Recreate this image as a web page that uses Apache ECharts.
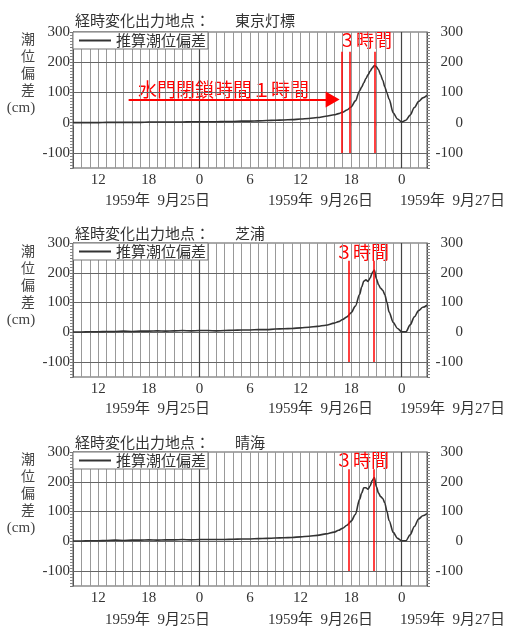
<!DOCTYPE html>
<html><head><meta charset="utf-8">
<script src="https://cdn.jsdelivr.net/npm/echarts@6/dist/echarts.min.js"></script>
<style>html,body{margin:0;padding:0;background:#fff}#c{width:510px;height:630px}</style>
</head><body><div id="c"></div>
<script>
// ---- data (hours counted from 1959-09-25 00:00) ----
const stations = ['東京灯標', '芝浦', '晴海'];
const seriesName = '推算潮位偏差';
const hours = [9,10,11,12,13,14,15,16,17,18,19,20,21,22,23,24,25,26,27,28,29,30,31,32,33,34,35,36,37,38,39,40,
  40.5,41,41.5,42,42.5,43,43.25,43.5,43.75,44,44.25,44.5,44.75,45,45.25,45.5,45.75,46,46.25,46.5,47,47.5,48,48.5,49,49.5,50,50.5,51];
const tokyoToho = [0,0,0,0,1,1,1,1,1,2,2,2,2,2,3,3,3,3,4,4,5,5,6,7,8,9,10,12,14,17,21,26,
  30,35,42,52,72,105,118,132,146,158,170,181,189,185,175,158,140,118,98,78,32,12,2,8,25,50,70,82,90];
const shibaura = [1,1,2,2,3,3,4,3,4,4,5,4,5,6,5,6,6,5,6,7,8,8,9,9,11,12,13,15,17,20,24,31,
  36,43,52,66,88,127,152,172,176,171,182,200,209,180,160,148,141,126,100,68,33,13,2,2,25,52,73,84,91];
const harumi = [1,1,2,2,3,4,3,4,4,5,4,5,5,6,5,6,6,6,6,7,8,8,9,10,11,12,13,15,17,20,25,31,
  37,44,54,68,90,141,162,180,180,175,186,204,214,183,162,150,144,128,100,70,30,10,2,2,22,50,75,86,93];
const stationValues = [tokyoToho, shibaura, harumi];
// red marker lines (hours) and their top value
const redLines = [[40.85, 41.85, 44.8], [41.7, 44.7], [41.7, 44.7]];
const redTop = [235, 240, 242];
// closing-time arrow (hour start, hour end, level)
const arrowStart = 15.6, arrowEnd = 39.8, arrowLevel = 77;
const yGridValues = [-100, 0, 100, 200];
const dayLines = [24, 48];
const dateLabels = ['1959年  9月25日', '1959年  9月26日', '1959年  9月27日'];

// ---- layout ----
const tops = [32, 243, 452];
const heights = [136, 134, 134];
const titleY = [20, 233, 442];
const dateY = [201, 409, 620];
const dateX = [105, 268, 400];
const nameTop = [30, 242, 450];
const hoursTextY = [40, 252, 460];
const serif = "'Liberation Serif','Noto Sans CJK JP',serif";
const jp = "'Noto Sans CJK JP',sans-serif";

const grid = [], xAxis = [], yAxis = [], series = [], legend = [], graphic = [];
tops.forEach((t, i) => {
  grid.push({left: 73, right: 83, top: t, height: heights[i], show: true, borderColor: '#555', borderWidth: 1, backgroundColor: 'transparent'});
  xAxis.push({
    gridIndex: i, type: 'value', min: 9, max: 51, interval: 1,
    axisLine: {show: false},
    axisTick: {show: true, length: 3, lineStyle: {color: '#888'}},
    axisLabel: {formatter: v => (v % 6 === 0 ? String(v % 24) : ''), fontFamily: serif, fontSize: 15, color: '#333', margin: 5},
    splitLine: {show: true, lineStyle: {color: '#999', width: 1}}
  });
  const yBase = {
    gridIndex: i, type: 'value', min: -150, max: 300, interval: 50,
    axisLine: {show: true, lineStyle: {color: '#555'}},
    axisTick: {show: true, length: 3, lineStyle: {color: '#777'}},
    minorTick: {show: true, splitNumber: 5, length: 3, lineStyle: {color: '#888'}},
    splitLine: {show: false}
  };
  yAxis.push(Object.assign({}, yBase, {position: 'left',
    axisLabel: {formatter: v => (v % 100 === 0 ? String(v) : ''), fontFamily: serif, fontSize: 15, color: '#333', margin: 3}}));
  yAxis.push(Object.assign({}, yBase, {position: 'right',
    axisLabel: {formatter: v => (v % 100 === 0 ? String(v) : ''), fontFamily: serif, fontSize: 15, color: '#333', margin: 36, align: 'right'}}));

  // helper series carrying background grid lines
  series.push({
    type: 'line', name: 'grid' + i, xAxisIndex: i, yAxisIndex: 2 * i, data: [], silent: true,
    markLine: {
      z: 1, silent: true, symbol: ['none', 'none'], label: {show: false}, animation: false,
      lineStyle: {color: '#666', width: 1, type: 'solid'},
      data: yGridValues.map(v => ({yAxis: v}))
        .concat(dayLines.map(h => ({xAxis: h, lineStyle: {color: '#444', width: 1.2, type: 'solid'}})))
    }
  });
  const mlData = redLines[i].map(h => [{coord: [h, -100]}, {coord: [h, redTop[i]]}]);
  if (i === 0) {
    mlData.push([{coord: [arrowStart, arrowLevel], symbol: 'none'},
                 {coord: [arrowEnd, arrowLevel], symbol: 'triangle', symbolSize: [16, 14], lineStyle: {width: 2}}]);
  }
  series.push({
    type: 'line', name: seriesName, xAxisIndex: i, yAxisIndex: 2 * i, z: 3,
    data: hours.map((h, k) => [h, stationValues[i][k]]),
    showSymbol: false, smooth: 0.3, smoothMonotone: 'x',
    lineStyle: {color: '#333', width: 1.6}, itemStyle: {color: '#333'},
    markLine: {
      z: 5, silent: true, symbol: ['none', 'none'], label: {show: false}, animation: false,
      lineStyle: {color: '#ff0000', width: 1.5, type: 'solid'},
      data: mlData
    }
  });
  legend.push({
    left: 73, top: t, data: [seriesName], icon: 'rect', itemWidth: 32, itemHeight: 2, itemGap: 5,
    borderColor: '#777', borderWidth: 1, backgroundColor: '#fff', padding: [1, 2, 1, 6], borderRadius: 0,
    selectedMode: false, z: 10,
    textStyle: {fontFamily: jp, fontSize: 15, color: '#333'}
  });

  graphic.push({type: 'text', x: 75, y: titleY[i], style: {text: '経時変化出力地点：', font: '15px ' + jp, fill: '#333', verticalAlign: 'middle'}});
  graphic.push({type: 'text', x: 235, y: titleY[i], style: {text: stations[i], font: '15px ' + jp, fill: '#333', verticalAlign: 'middle'}});
  graphic.push({type: 'text', x: 28, y: nameTop[i], style: {text: '潮\n位\n偏\n差', font: '14px ' + jp, lineHeight: 17, fill: '#444', align: 'center', verticalAlign: 'top'}});
  graphic.push({type: 'text', x: 21, y: nameTop[i] + 78, style: {text: '(cm)', font: '15px ' + serif, fill: '#444', align: 'center', verticalAlign: 'middle'}});
  dateLabels.forEach((d, k) => {
    graphic.push({type: 'text', x: dateX[k], y: dateY[i], style: {text: d, font: '15px ' + serif, fill: '#333', verticalAlign: 'middle'}});
  });
  graphic.push({type: 'text', x: i === 0 ? 338 : 335, y: hoursTextY[i], style: {text: '３時間', font: '18px ' + jp, fill: '#ff0000', verticalAlign: 'middle'}});
});
graphic.push({type: 'text', x: 138, y: 90, style: {text: '水門閉鎖時間１時間', font: '19px ' + jp, fill: '#ff0000', verticalAlign: 'middle'}});

const chart = echarts.init(document.getElementById('c'), null, {renderer: 'canvas'});
chart.setOption({animation: false, backgroundColor: '#fff', grid, xAxis, yAxis, series, legend, graphic});
</script></body></html>
